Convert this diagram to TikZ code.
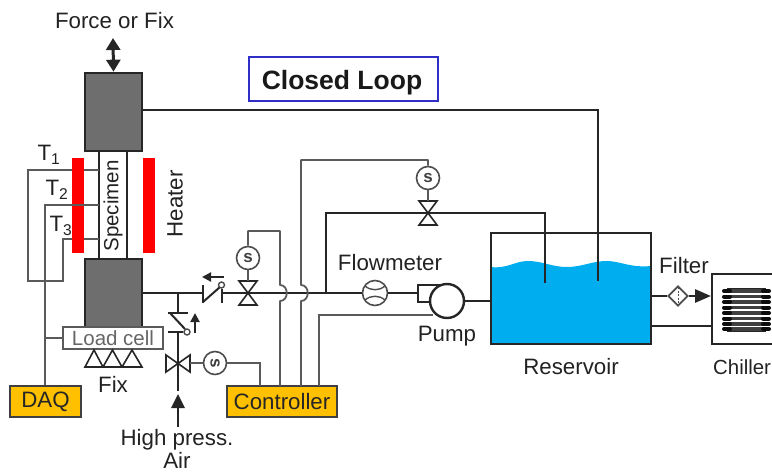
\documentclass[tikz,border=0pt]{standalone}
\usepackage{fontspec}
\setmainfont{Liberation Sans}
\usetikzlibrary{arrows.meta,shapes.geometric}
\definecolor{blockgray}{HTML}{6E6E6E}
\definecolor{wire}{HTML}{5A5A5A}
\definecolor{txtc}{HTML}{222222}
\definecolor{amber}{HTML}{FFC000}
\definecolor{water}{HTML}{00AEEF}
\definecolor{loopblue}{HTML}{2F2FC8}
\tikzset{
  pipe/.style={draw=black!85,line width=2.8pt},
  thinpipe/.style={draw=black!85,line width=2pt},
  wireline/.style={draw=wire,line width=1.8pt},
  block/.style={draw=black!85,fill=blockgray,line width=2.6pt,minimum width=57pt,minimum height=#1,inner sep=0pt},
  heaterbar/.style={fill=red,draw=none,minimum width=12pt,minimum height=95pt,inner sep=0pt},
  lbl/.style={font=\fontsize{22.3}{24}\selectfont,text=txtc,inner sep=0pt},
  ctrlbox/.style={draw=black!75,fill=amber,line width=1.6pt,inner sep=0pt,font=\fontsize{22.3}{24}\selectfont,text=black!85},
  solenoid/.style={circle,draw=black!70,fill=white,line width=1.6pt,minimum size=23pt,inner sep=0pt,font=\fontsize{17}{20}\selectfont\bfseries,text=black!75},
  valvetri/.style={draw=black!85,line width=1.6pt,fill=white,line join=miter},
  bigtip/.style={-{Triangle[length=14pt,width=13pt]}},
  smalltip/.style={-{Triangle[length=9pt,width=9pt]}}
}
\newcommand{\vvalve}[2]{%
  \draw[valvetri] (#1-9,#2-12) -- (#1+9,#2-12) -- (#1,#2) -- cycle;
  \draw[valvetri] (#1-9,#2+12) -- (#1+9,#2+12) -- (#1,#2) -- cycle;}
\begin{document}
\begin{tikzpicture}[x=1pt,y=-1pt]
\useasboundingbox (0,0) rectangle (772,474);
% reservoir water
\fill[water] (491,267) .. controls (507,269) and (515,261) .. (528,261)
  .. controls (542,261) and (552,267) .. (567,267)
  .. controls (582,267) and (592,261) .. (607,261)
  .. controls (620,261) and (630,268) .. (651,266) -- (651,344) -- (491,344) -- cycle;
\node[draw=black!85,line width=2.2pt,minimum width=160pt,minimum height=111pt,inner sep=0pt] (reservoir) at (571,288.5) {};
% specimen
\node[draw=black!85,line width=2.4pt,fill=white,minimum width=28pt,minimum height=108pt,inner sep=0pt] (specimen) at (113,205) {};
\node[rotate=90,font=\fontsize{20.5}{24}\selectfont,text=txtc,inner sep=0pt] (spectext) at (113,206) {Specimen};
% thermocouples (behind the heaters)
\coordinate (t1a) at (99,170); \coordinate (t2a) at (99,205); \coordinate (t3a) at (99,239);
\coordinate (t1c) at (28,170); \coordinate (t1d) at (28,281); \coordinate (t3d) at (63,281); \coordinate (t3c) at (63,239);
\coordinate (t2c) at (45,205);
\draw[wireline,line join=miter] (t1a) -- (t1c) -- (t1d) -- (t3d) -- (t3c) -- (t3a);
\node[heaterbar] (heatL) at (78,205.5) {};
\node[heaterbar] (heatR) at (149,205.5) {};
\node[block=78pt] (top) at (113.5,112) {};
\node[block=68pt] (bottom) at (113.5,293) {};
\node[lbl,rotate=90] (heatertext) at (175,204) {Heater};
\node[lbl] (force) at (114.5,20.5) {Force or Fix};
\coordinate (fa) at (113,38);
\draw[line width=3pt,black!85,{Triangle[length=12pt,width=14pt]}-{Triangle[length=12pt,width=14pt]}] (fa) -- (top.north);
% labels
\node[lbl] (T1) at (49,155) {T\textsubscript{1}};
\node[lbl] (T2) at (57,190) {T\textsubscript{2}};
\node[lbl] (T3) at (61,226) {T\textsubscript{3}};
% load cell
\node[draw=wire,line width=1.8pt,fill=white,minimum width=100pt,minimum height=22pt,inner sep=0pt,font=\fontsize{20.5}{24}\selectfont,text=black!60] (load) at (113,338) {Load cell};
\draw[valvetri] (85,367) -- (94,350) -- (103,367) -- cycle;
\draw[valvetri] (103,367) -- (112.5,350) -- (122,367) -- cycle;
\draw[valvetri] (122,367) -- (132,350) -- (142,367) -- cycle;
\node[lbl] (fix) at (113,384) {Fix};
\node[ctrlbox,minimum width=71pt,minimum height=31pt] (daq) at (45.5,401.5) {DAQ};
\node[ctrlbox,minimum width=110pt,minimum height=31pt] (ctrl) at (282,401.5) {Controller};
\draw[wireline] (t2a) -- (t2c) -- (daq.north -| t2c);
\draw[wireline] (45,338) -- (load.west);
% main pipe with junctions
\coordinate (j1) at (178,293); \coordinate (j2) at (326,293);
\node[circle,draw=black!70,fill=white,line width=1.6pt,minimum size=25pt,inner sep=0pt] (flow) at (375,293) {};
\draw[black!70,line width=1.4pt] (365,286) .. controls (371,291) and (379,291) .. (385,286);
\draw[black!70,line width=1.4pt] (365,300) .. controls (371,295) and (379,295) .. (385,300);
\draw[pipe] (bottom.east |- j1) -- (203,293);
\draw[pipe] (222,293) -- (flow.west);
\draw[pipe] (flow.east) -- (418,293);
% check valve (horizontal)
\draw[thinpipe] (203,285) -- (203,303);
\draw[thinpipe] (203,302) -- (220,287);
\draw[thinpipe] (222,289) -- (222,303);
\node[circle,draw=black!70,fill=white,line width=1.4pt,minimum size=6pt,inner sep=0pt] (cv1) at (221.5,285) {};
\draw[line width=2pt,black!85,smalltip] (224,277) -- (202,277);
% solenoid valve 1
\vvalve{248}{293}
\node[solenoid] (s1) at (248,258) {s};
\draw[wireline] (s1.south) -- (248,281);
% hops of control wires
\draw[wireline,line join=round] (s1.north) -- (248,231) -- (280,231) -- (280,285) .. controls (289,285) and (289,301) .. (280,301) -- (280,386);
% upper line
\draw[pipe,line join=miter] (j2) -- (326,213) -- (545,213) -- (545,283);
\vvalve{428}{213}
\node[solenoid] (s2) at (428,178) {s};
\draw[wireline] (s2.south) -- (428,201);
\draw[wireline,line join=round] (s2.north) -- (428,160) -- (301,160) -- (301,285) .. controls (310,285) and (310,301) .. (301,301) -- (301,386);
% top return line
\draw[thinpipe,line join=miter] (top.east |- 0,110) -- (598,110) -- (598,281);
% pump
\node[draw=black!85,line width=2.2pt,fill=white,minimum width=22pt,minimum height=17pt,inner sep=0pt] (pumpbody) at (429,293.5) {};
\node[circle,draw=black!85,fill=white,line width=2.4pt,minimum size=34pt,inner sep=0pt] (pump) at (447,301) {};
\draw[pipe] (pump.east) -- (reservoir.west |- pump.east);
\draw[wireline,line join=miter] (319,386) -- (319,315) -- (433,315);
% branch to high pressure air
\draw[pipe] (j1) -- (178,313);
\draw[thinpipe] (168,313) -- (188,313);
\draw[thinpipe] (170,313) -- (185,329);
\draw[thinpipe] (168,332) -- (183,332);
\node[circle,draw=black!70,fill=white,line width=1.4pt,minimum size=6pt,inner sep=0pt] (cv2) at (187,332) {};
\draw[line width=2pt,black!85,smalltip] (195,333) -- (195,313);
% bow-tie valve with the pipe running through it
\draw[valvetri] (166,355) -- (166,372) -- (178,363.5) -- cycle;
\draw[valvetri] (190,355) -- (190,372) -- (178,363.5) -- cycle;
\draw[pipe] (178,333) -- (178,391);
\node[solenoid] (s3) at (215,363) {\rotatebox{-90}{s}};
\draw[wireline] (s3.west) -- (190,363);
\draw[wireline,line join=miter] (s3.east) -- (260,363) -- (260,386);
\coordinate (airend) at (178,427);
\draw[line width=2.8pt,black!85,bigtip] (airend) -- (178,394);
\node[lbl] (high) at (177,439.5) {High press.};
\node[lbl] (air) at (177,460.5) {Air};
% labels
\node[lbl] (fm) at (390,263) {Flowmeter};
\node[lbl] (pumptxt) at (447,336) {Pump};
\node[lbl] (restxt) at (571,367) {Reservoir};
\node[lbl] (filtertxt) at (684,266) {Filter};
\node[lbl,anchor=west,font=\fontsize{20.4}{24}\selectfont] (chilltxt) at (713,367) {Chiller};
% closed loop
\node[draw=loopblue,line width=1.2pt,minimum width=189pt,minimum height=44pt,inner sep=0pt] (loop) at (343.5,79) {};
\node[font=\fontsize{26.5}{30}\selectfont\bfseries,text=black!90,inner sep=0pt] (looptxt) at (342,82.5) {Closed Loop};
% filter & chiller
\node[draw=black!70,fill=white,line width=1.8pt,diamond,aspect=1,minimum size=20pt,inner sep=0pt] (filter) at (678,296) {};
\draw[black!70,line width=1pt,dash pattern=on 2pt off 1.5pt] (678,287) -- (678,305);
\draw[pipe] (651,296) -- (filter.west);
\draw[line width=2.8pt,black!85,-{Triangle[length=16pt,width=13pt]}] (filter.east) -- (711,296);
\draw[line width=2pt,black!85] (772,274) -- (712,274) -- (712,344) -- (772,344);
\draw[thinpipe] (651,326) -- (712,326);
\foreach \yy in {291,296.5,302,307.5,313,318.5,324,329}{
  \draw[line width=3.2pt,black!75] (726,\yy) -- (767,\yy);
  \draw[line width=4pt,black!95,line cap=round] (724,\yy) -- (730,\yy);
  \draw[line width=4pt,black!95,line cap=round] (763,\yy) -- (769,\yy);
}
\draw[line width=1.6pt,black!85] (727,288.5) -- (766,288.5);
\draw[line width=1.6pt,black!85] (727,331.5) -- (766,331.5);
\end{tikzpicture}
\end{document}
